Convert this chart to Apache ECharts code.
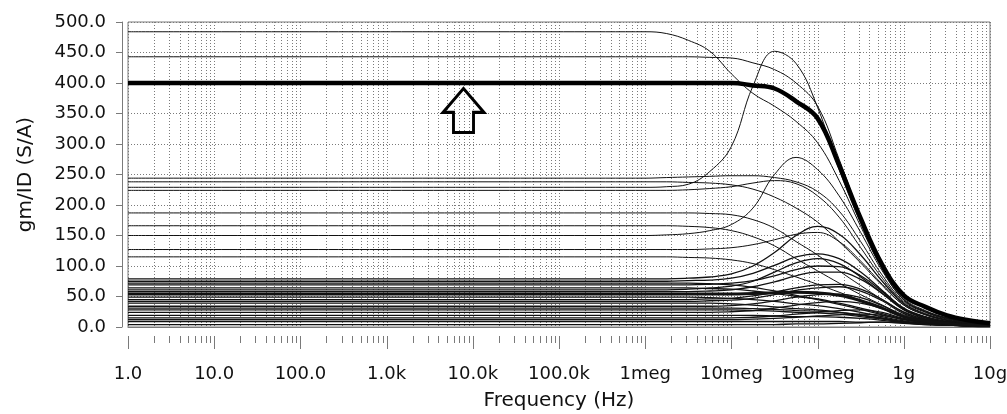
<!DOCTYPE html>
<html>
<head>
<meta charset="utf-8">
<script src="https://cdn.jsdelivr.net/npm/echarts@6/dist/echarts.min.js"></script>
<style>
  html, body { margin: 0; padding: 0; background: #fff; }
  #chart { width: 1007px; height: 414px; }
</style>
</head>
<body>
<div id="chart"></div>
<script>
// frequency points (Hz): 1 Hz, then quarter decades from 1meg to 10g
const freqs = [1, 1e6, 1.778e6, 3.162e6, 5.623e6, 1e7, 1.778e7, 3.162e7, 5.623e7, 1e8,
  1.778e8, 3.162e8, 5.623e8, 1e9, 1.778e9, 3.162e9, 5.623e9, 1e10]

// the highlighted curves
const mainCurve = [400, 400, 400, 400, 400, 400, 396, 391, 370, 342, 265, 178, 102, 52, 33, 19, 11, 6]
const lowThickCurve = [54, 54, 54, 54, 54, 54, 55, 56, 57, 56, 52, 43, 31, 17, 10, 6, 3, 2]

// all the other gm/ID sweeps
const thinCurves = [
  [484, 484, 481, 470, 452, 415, 383, 362, 337, 302, 240, 165, 95, 45, 26, 15, 9, 5],
  [443, 443, 443, 443, 442, 441, 433, 422, 400, 362, 275, 180, 100, 47, 27, 15, 9, 5],
  [229, 229, 230, 234, 255, 296, 395, 452, 432, 360, 258, 170, 95, 44, 25, 14, 8, 5],
  [244, 244, 245, 246, 247, 248, 248, 245, 238, 222, 190, 140, 85, 42, 24, 13, 8, 4],
  [238, 238, 238, 237, 236, 233, 226, 213, 195, 172, 140, 105, 68, 36, 20, 11, 7, 3],
  [224, 224, 224, 225, 227, 230, 236, 240, 235, 215, 180, 130, 80, 40, 22, 12, 7, 4],
  [187, 187, 187, 187, 186, 184, 176, 162, 140, 118, 92, 68, 45, 25, 14, 8, 5, 3],
  [166, 166, 166, 165, 163, 158, 148, 133, 112, 92, 72, 53, 36, 20, 12, 7, 4, 3],
  [150, 150, 151, 153, 158, 168, 195, 250, 278, 258, 215, 155, 92, 45, 25, 14, 8, 4],
  [127, 127, 127, 127, 128, 130, 135, 143, 152, 155, 140, 108, 70, 36, 20, 11, 6, 4],
  [115, 115, 115, 114, 113, 110, 104, 94, 82, 70, 57, 44, 31, 18, 11, 6, 4, 2],
  [79, 79, 79, 80, 82, 87, 100, 122, 150, 165, 152, 118, 75, 38, 21, 11, 6, 4],
  [75, 75, 75, 76, 77, 80, 88, 101, 115, 120, 112, 90, 60, 31, 17, 9, 5, 3],
  [72, 72, 72, 72, 71, 69, 65, 59, 52, 45, 37, 29, 20, 12, 7, 4, 3, 2],
  [69, 69, 69, 69, 70, 72, 76, 84, 94, 100, 99, 84, 58, 30, 16, 9, 5, 3],
  [64, 64, 64, 64, 63, 62, 59, 55, 50, 46, 39, 31, 22, 13, 8, 4, 3, 2],
  [61, 61, 61, 62, 64, 67, 75, 90, 105, 112, 104, 82, 55, 28, 15, 8, 5, 3],
  [58, 58, 58, 58, 59, 61, 66, 74, 84, 90, 90, 78, 55, 29, 16, 8, 5, 3],
  [49, 49, 49, 49, 48, 47, 45, 42, 38, 35, 30, 24, 17, 10, 6, 4, 2, 2],
  [45, 45, 45, 45, 46, 47, 51, 57, 64, 69, 70, 62, 45, 24, 13, 7, 4, 3],
  [42, 42, 42, 42, 43, 44, 47, 53, 60, 64, 66, 59, 43, 22, 12, 7, 4, 2],
  [39, 39, 39, 39, 39, 38, 36, 33, 30, 28, 24, 19, 14, 8, 5, 3, 2, 1],
  [34, 34, 34, 34, 34, 35, 38, 43, 49, 53, 54, 48, 35, 18, 10, 6, 3, 2],
  [31, 31, 31, 31, 31, 31, 30, 29, 27, 26, 24, 20, 15, 9, 5, 3, 2, 1],
  [28, 28, 28, 28, 28, 28, 27, 26, 24, 23, 21, 17, 13, 8, 5, 3, 2, 1],
  [24, 24, 24, 24, 24, 25, 27, 31, 36, 40, 42, 39, 30, 16, 9, 5, 3, 2],
  [19, 19, 19, 19, 19, 19, 19, 18, 17, 17, 16, 14, 11, 7, 4, 3, 2, 1],
  [15, 15, 15, 15, 15, 15, 16, 18, 21, 24, 27, 28, 24, 14, 8, 5, 3, 2],
  [12, 12, 12, 12, 12, 12, 13, 14, 16, 18, 20, 21, 19, 12, 7, 4, 3, 2],
  [9, 9, 9, 9, 9, 9, 9, 9, 9, 9, 9, 8, 8, 6, 4, 3, 2, 1],
  [4, 4, 4, 4, 4, 4, 4, 4, 5, 5, 6, 7, 8, 7, 5, 3, 2, 1],
]

const xTickLabels = ['1.0', '10.0', '100.0', '1.0k', '10.0k', '100.0k', '1meg', '10meg', '100meg', '1g', '10g']

// arrow annotation position (Hz, S/A)
const arrowAt = [7800, 355]

const FONT = 'DejaVu Sans'
const GRID_GRAY = '#7a7a7a'

// decade and 2..9 grid positions on the log axis
const gridTicks = []
for (let e = 0; e < 10; e++) {
  for (let m = 1; m < 10; m++) gridTicks.push([m * Math.pow(10, e), m === 1 ? e : -1])
}
gridTicks.push([1e10, 10])

function toPairs(values) {
  return values.map((v, i) => [freqs[i], v])
}

function lineSeries(values, width) {
  return {
    type: 'line',
    data: toPairs(values),
    symbol: 'none',
    smooth: 0.4,
    silent: true,
    z: 3,
    lineStyle: { color: '#111', width },
  }
}

const chart = echarts.init(document.getElementById('chart'), null, { renderer: 'canvas' })

const series = [
  {
    // x grid lines, ticks under the offset axis line and the decade labels
    type: 'custom',
    data: gridTicks,
    clip: false,
    silent: true,
    z: 1,
    renderItem(params, api) {
      const p = api.coord([api.value(0), 0])
      const cs = params.coordSys
      const x = Math.round(p[0]) + 0.5
      const bottom = cs.y + cs.height
      const decade = api.value(1)
      const major = decade >= 0
      const children = [
        {
          type: 'line',
          shape: { x1: x, y1: cs.y, x2: x, y2: bottom },
          style: { stroke: GRID_GRAY, lineWidth: 1, lineDash: [1, 2] },
        },
        {
          type: 'line',
          shape: { x1: x, y1: bottom + 9, x2: x, y2: bottom + 9 + (major ? 13 : 7) },
          style: { stroke: GRID_GRAY, lineWidth: 1 },
        },
      ]
      if (major) {
        children.push({
          type: 'text',
          style: {
            text: xTickLabels[decade],
            x: p[0],
            y: bottom + 47,
            align: 'center',
            verticalAlign: 'middle',
            fontFamily: FONT,
            fontSize: 18,
            fill: '#111',
          },
        })
      }
      return { type: 'group', children }
    },
  },
  // curves starting under 80 sit in a dense band drawn a little heavier
  ...thinCurves.map((c) => lineSeries(c, c[0] < 80 ? 1.3 : 1)),
  lineSeries(lowThickCurve, 3),
  {
    ...lineSeries(mainCurve, 4.5),
    lineStyle: { color: '#000', width: 4.5 },
    markPoint: {
      silent: true,
      symbol: 'path://M21.5,0 L43,25 L32,25 L32,46 L11,46 L11,25 L0,25 Z',
      symbolSize: [41, 44],
      label: { show: false },
      itemStyle: { color: 'rgba(0,0,0,0)', borderColor: '#000', borderWidth: 3 },
      data: [{ coord: arrowAt }],
    },
  },
]

chart.setOption({
  animation: false,
  backgroundColor: '#fff',
  grid: {
    left: 128,
    right: 17,
    top: 22,
    bottom: 87,
    outerBoundsMode: 'none',
    show: true,
    borderColor: GRID_GRAY,
    borderWidth: 1,
  },
  xAxis: {
    type: 'log',
    logBase: 10,
    min: 1,
    max: 1e10,
    offset: 9,
    name: 'Frequency (Hz)',
    nameLocation: 'middle',
    nameGap: 55,
    nameTextStyle: { fontFamily: FONT, fontSize: 20, color: '#111' },
    axisLine: { show: true, lineStyle: { color: GRID_GRAY, width: 1 } },
    axisTick: { show: false },
    splitLine: { show: false },
    minorTick: { show: false },
    axisLabel: { show: false },
  },
  yAxis: {
    type: 'value',
    min: 0,
    max: 500,
    interval: 50,
    offset: 6,
    name: 'gm/ID (S/A)',
    nameLocation: 'middle',
    nameGap: 86,
    nameTextStyle: { fontFamily: FONT, fontSize: 20, color: '#111' },
    axisLine: { show: true, lineStyle: { color: GRID_GRAY, width: 1 } },
    axisTick: { show: true, length: 6, lineStyle: { color: GRID_GRAY } },
    splitLine: { show: true, lineStyle: { color: GRID_GRAY, width: 1, type: [1, 2] } },
    axisLabel: {
      margin: 16,
      fontFamily: FONT,
      fontSize: 18,
      color: '#111',
      formatter: (v) => v.toFixed(1),
    },
  },
  series,
})
</script>
</body>
</html>
